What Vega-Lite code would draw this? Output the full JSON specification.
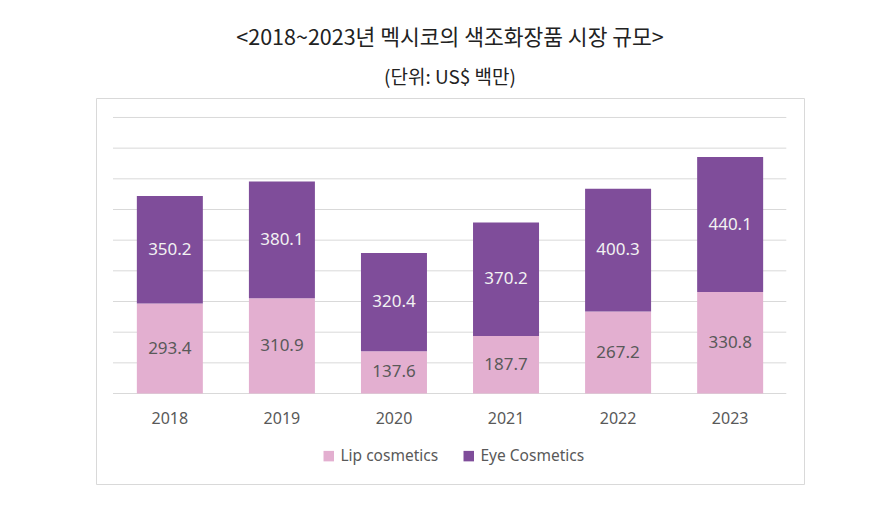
{
  "$schema": "https://vega.github.io/schema/vega-lite/v6.json",
  "width": 708,
  "height": 386,
  "autosize": {"type": "none"},
  "padding": {"left": 96, "top": 98, "right": 83, "bottom": 33},
  "background": "white",
  "title": {
    "text": "<2018~2023년 멕시코의 색조화장품 시장 규모>",
    "subtitle": "(단위: US$ 백만)",
    "anchor": "middle",
    "font": "Noto Sans CJK KR",
    "fontSize": 21.5,
    "fontWeight": "normal",
    "color": "#222222",
    "subtitleFont": "Noto Sans CJK KR",
    "subtitleFontSize": 19,
    "subtitleColor": "#222222",
    "subtitlePadding": 20,
    "offset": 10
  },
  "datasets": {
    "sales": [
      {"year": "2018", "series": "Lip cosmetics", "value": 293.4},
      {"year": "2018", "series": "Eye Cosmetics", "value": 350.2},
      {"year": "2019", "series": "Lip cosmetics", "value": 310.9},
      {"year": "2019", "series": "Eye Cosmetics", "value": 380.1},
      {"year": "2020", "series": "Lip cosmetics", "value": 137.6},
      {"year": "2020", "series": "Eye Cosmetics", "value": 320.4},
      {"year": "2021", "series": "Lip cosmetics", "value": 187.7},
      {"year": "2021", "series": "Eye Cosmetics", "value": 370.2},
      {"year": "2022", "series": "Lip cosmetics", "value": 267.2},
      {"year": "2022", "series": "Eye Cosmetics", "value": 400.3},
      {"year": "2023", "series": "Lip cosmetics", "value": 330.8},
      {"year": "2023", "series": "Eye Cosmetics", "value": 440.1}
    ],
    "grid": [
      {"g": 0}, {"g": 100}, {"g": 200}, {"g": 300}, {"g": 400},
      {"g": 500}, {"g": 600}, {"g": 700}, {"g": 800}, {"g": 900}
    ]
  },
  "layer": [
    {
      "data": {"name": "grid"},
      "mark": {"type": "rule", "color": "#D9D9D9", "strokeWidth": 1},
      "encoding": {
        "y": {"field": "g", "type": "quantitative", "scale": {"domain": [-295, 963.5], "nice": false, "zero": false}, "axis": null},
        "x": {"datum": 0.024, "type": "quantitative", "scale": {"domain": [0, 1], "nice": false}, "axis": null},
        "x2": {"datum": 0.975}
      }
    },
    {
      "data": {"name": "sales"},
      "encoding": {
        "x": {
          "field": "year",
          "type": "nominal",
          "scale": {"paddingInner": 0.411, "paddingOuter": 0.3645},
          "axis": {
            "title": null,
            "domain": false,
            "ticks": false,
            "grid": false,
            "labelAngle": 0,
            "labelFont": "Noto Sans",
            "labelFontSize": 16,
            "labelColor": "#595959",
            "labelPadding": 17,
            "offset": -90.5
          }
        },
        "order": {"field": "series", "sort": "descending"}
      },
      "layer": [
        {
          "mark": {"type": "bar"},
          "encoding": {
            "y": {"field": "value", "type": "quantitative", "stack": "zero", "axis": null},
            "color": {
              "field": "series",
              "type": "nominal",
              "scale": {"domain": ["Lip cosmetics", "Eye Cosmetics"], "range": ["#E3AFD0", "#7F4D9A"]},
              "legend": {
                "title": null,
                "orient": "none",
                "legendX": 225,
                "legendY": 350,
                "direction": "horizontal",
                "symbolType": "square",
                "symbolSize": 110,
                "symbolStrokeWidth": 0,
                "labelFont": "Noto Sans",
                "labelFontSize": 15.5,
                "labelColor": "#595959",
                "labelOffset": 4,
                "columnPadding": 22
              }
            }
          }
        },
        {
          "mark": {"type": "text", "font": "Noto Sans", "fontSize": 17, "baseline": "middle", "align": "center"},
          "encoding": {
            "y": {"field": "value", "type": "quantitative", "stack": "zero", "bandPosition": 0.5, "axis": null},
            "text": {"field": "value", "type": "quantitative", "format": ".1f"},
            "color": {
              "condition": {"test": "datum.series === 'Lip cosmetics'", "value": "#595959"},
              "value": "#F2F2F2"
            }
          }
        }
      ]
    }
  ],
  "resolve": {"scale": {"x": "independent"}},
  "config": {
    "view": {"stroke": "#D9D9D9", "strokeWidth": 1}
  }
}
